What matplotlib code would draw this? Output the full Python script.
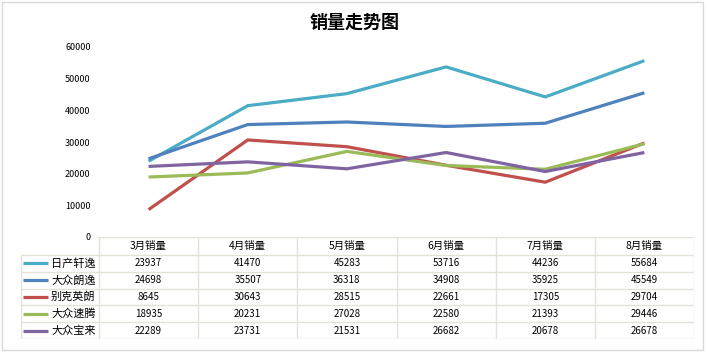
import matplotlib.pyplot as plt
from matplotlib.patches import Rectangle

plt.rcParams['font.family'] = ['Noto Sans CJK SC', 'DejaVu Sans']

# data
months = ['3月销量', '4月销量', '5月销量', '6月销量', '7月销量', '8月销量']
series_names = ['日产轩逸', '大众朗逸', '别克英朗', '大众速腾', '大众宝来']
xuanyi = [23937, 41470, 45283, 53716, 44236, 55684]
langyi = [24698, 35507, 36318, 34908, 35925, 45549]
yinglang = [8645, 30643, 28515, 22661, 17305, 29704]
suteng = [18935, 20231, 27028, 22580, 21393, 29446]
baolai = [22289, 23731, 21531, 26682, 20678, 26678]
colors = ['#4BACC6', '#4F81BD', '#C0504D', '#9BBB59', '#8064A2']
yticks = [0, 10000, 20000, 30000, 40000, 50000, 60000]

all_series = [xuanyi, langyi, yinglang, suteng, baolai]

W, H = 708, 354
fig = plt.figure(figsize=(W / 100, H / 100), dpi=100)

def px_axes(x0, y0, x1, y1):
    # pixel box (top-left origin) -> figure fraction axes
    return fig.add_axes([x0 / W, 1 - y1 / H, (x1 - x0) / W, (y1 - y0) / H])

# chart frame
fig.patches.append(Rectangle((2 / W, 4 / H), 701 / W, 348 / H, transform=fig.transFigure,
                             fill=False, edgecolor='#D9D9D9', linewidth=1))

fig.text(355 / W, 1 - 22 / H, '销量走势图', ha='center', va='center',
         fontsize=13, fontweight='bold', color='#000000')

# line chart
col_left, col_right = 99, 694
ax = px_axes(col_left, 47, col_right, 237)
x = range(len(months))
for vals, c in zip(all_series, colors):
    ax.plot(x, vals, color=c, linewidth=2.3, solid_capstyle='butt')
ax.set_xlim(-0.5, len(months) - 0.5)
ax.set_ylim(0, 60000)
ax.set_yticks(yticks)
ax.set_yticklabels([str(v) for v in yticks], fontsize=6.5, color='#000000')
ax.tick_params(axis='y', length=0, pad=6)
ax.set_xticks([])
for s in ax.spines.values():
    s.set_visible(False)
ax.patch.set_alpha(0)

# data table
grid = '#E3E1D8'
tb = px_axes(21, 237, col_right, 339)
tb.set_xlim(21, col_right)
tb.set_ylim(339, 237)
tb.axis('off')
cw = (col_right - col_left) / len(months)
hdr_h = 18
row_h = (339 - 237 - hdr_h) / len(series_names)

# header row
tb.plot([col_left, col_right], [237, 237], color=grid, lw=1)
for i, m in enumerate(months):
    tb.text(col_left + cw * (i + 0.5), 237 + hdr_h / 2, m, ha='center', va='center',
            fontsize=7.5, color='#000000')
# rows
for r, (name, vals, c) in enumerate(zip(series_names, all_series, colors)):
    yt = 237 + hdr_h + r * row_h
    yc = yt + row_h / 2
    tb.plot([23, 48], [yc, yc], color=c, lw=2.3, solid_capstyle='butt')
    tb.text(51, yc, name, ha='left', va='center', fontsize=8, color='#000000')
    for i, v in enumerate(vals):
        tb.text(col_left + cw * (i + 0.5), yc, str(v), ha='center', va='center',
                fontsize=7, color='#000000')
# grid lines
for r in range(len(series_names) + 1):
    y = 237 + hdr_h + r * row_h
    tb.plot([21, col_right], [y, y], color=grid, lw=1)
for i in range(len(months) + 1):
    xv = col_left + cw * i
    tb.plot([xv, xv], [237, 339], color=grid, lw=1)
tb.plot([21, 21], [237 + hdr_h, 339], color=grid, lw=1)

fig.savefig('out.png', dpi=100)
